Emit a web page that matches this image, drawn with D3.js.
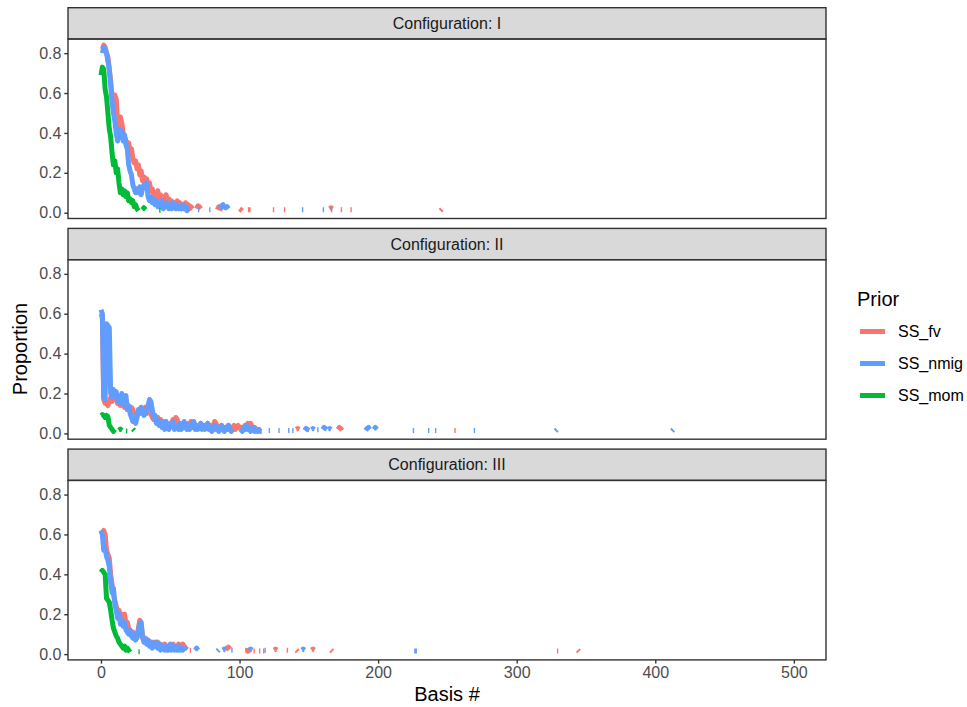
<!DOCTYPE html>
<html>
<head>
<meta charset="utf-8">
<script src="https://cdnjs.cloudflare.com/ajax/libs/d3/7.8.5/d3.min.js"></script>
<style>
  body { margin: 0; background: #fff; }
  svg { display: block; font-family: "Liberation Sans", Arial, sans-serif; }
</style>
</head>
<body>
<svg></svg>
<script>
var configs = ['I', 'II', 'III'];
var priors = ['SS_fv', 'SS_nmig', 'SS_mom'];
var priorColors = ['#F8766D', '#619CFF', '#00BA38'];
var xTicks = [0, 100, 200, 300, 400, 500];
var yTicks = [0, 0.2, 0.4, 0.6, 0.8];

// each run: [first basis #, [proportions of consecutive bases]]
var fvI = [
  [1, [0.82, 0.84, 0.83, 0.80, 0.78, 0.72, 0.66, 0.58, 0.52, 0.59,
       0.57, 0.46, 0.43, 0.48, 0.45, 0.40, 0.38, 0.36, 0.33, 0.35,
       0.31, 0.32, 0.27, 0.25, 0.26, 0.22, 0.24, 0.19, 0.21, 0.16,
       0.18, 0.15, 0.17, 0.13, 0.15, 0.11, 0.12, 0.09, 0.10, 0.08,
       0.11, 0.07, 0.09, 0.06, 0.08, 0.05, 0.09, 0.05, 0.07, 0.04,
       0.06, 0.03, 0.05, 0.04, 0.06, 0.03, 0.05, 0.02, 0.04, 0.02,
       0.05, 0.03, 0.04, 0.02, 0.03, 0.02]],
  [69, [0.02, 0.035, 0.03, 0.02]],
  [84, [0.015, 0.03, 0.025, 0.02, 0.015]],
  [100, [0.02, 0.015, 0.01]],
  [106, [0.015, 0.015, 0.015]],
  [124, [0.015, 0.015]],
  [132, [0.015, 0.015]],
  [165, [0.02, 0.025, 0.02]],
  [173, [0.015, 0.015]],
  [180, [0.015, 0.015]],
  [245, [0.01, 0.017]]
];
var nmigI = [
  [1, [0.80, 0.83, 0.82, 0.80, 0.76, 0.72, 0.64, 0.56, 0.50, 0.46,
       0.40, 0.36, 0.42, 0.38, 0.41, 0.36, 0.39, 0.34, 0.32, 0.24,
       0.21, 0.19, 0.14, 0.12, 0.10, 0.12, 0.10, 0.13, 0.09, 0.12,
       0.14, 0.13, 0.15, 0.08, 0.06, 0.08, 0.05, 0.07, 0.04, 0.06,
       0.03, 0.05, 0.03, 0.06, 0.02, 0.04, 0.03, 0.05, 0.02, 0.04,
       0.02, 0.05, 0.03, 0.02, 0.04, 0.02, 0.03, 0.02, 0.04, 0.02,
       0.03, 0.01, 0.02, 0.02]],
  [70, [0.015, 0.015]],
  [78, [0.015, 0.015]],
  [86, [0.02, 0.035, 0.04, 0.03, 0.025, 0.03, 0.02]],
  [145, [0.015, 0.015]],
  [160, [0.015, 0.015]],
  [166, [0.015, 0.015]]
];
var momI = [
  [0, [0.69, 0.73, 0.72, 0.62, 0.58, 0.50, 0.42, 0.38, 0.30, 0.24,
       0.26, 0.20, 0.22, 0.15, 0.10, 0.12, 0.09, 0.11, 0.08, 0.10,
       0.06, 0.07, 0.05, 0.06, 0.03, 0.04, 0.02, 0.01]],
  [30, [0.015, 0.025, 0.015]],
  [42, [0.012, 0.012]]
];

var fvII = [
  [0, [0.60, 0.58, 0.17, 0.15, 0.15, 0.14, 0.16, 0.18, 0.16, 0.20,
       0.17, 0.19, 0.15, 0.17, 0.14, 0.18, 0.15, 0.13, 0.16, 0.12,
       0.13, 0.12, 0.13, 0.12, 0.08, 0.07, 0.09, 0.11, 0.12, 0.13,
       0.10, 0.12, 0.13, 0.10, 0.14, 0.15, 0.10, 0.08, 0.07, 0.09,
       0.06, 0.08, 0.05, 0.07, 0.04, 0.06, 0.03, 0.05, 0.04, 0.03,
       0.04, 0.05, 0.07, 0.03, 0.08, 0.07, 0.03, 0.05, 0.03, 0.04,
       0.05, 0.04, 0.03, 0.05, 0.03, 0.06, 0.04, 0.05, 0.03, 0.04,
       0.03, 0.04, 0.05, 0.03, 0.04, 0.03, 0.04, 0.05, 0.03, 0.04,
       0.02, 0.03, 0.06, 0.05, 0.03, 0.02, 0.03, 0.04, 0.03, 0.02,
       0.03, 0.02, 0.04, 0.03, 0.02, 0.03, 0.04, 0.02, 0.03, 0.04,
       0.03, 0.02, 0.03, 0.02, 0.04, 0.03, 0.05, 0.04, 0.05, 0.03,
       0.02, 0.03, 0.02, 0.02]],
  [141, [0.02, 0.025, 0.02]],
  [149, [0.02, 0.02]],
  [171, [0.02, 0.03, 0.025, 0.015]],
  [255, [0.015, 0.015]]
];
var nmigII = [
  [0, [0.62, 0.60, 0.18, 0.17, 0.55, 0.54, 0.53, 0.20, 0.18, 0.22,
       0.19, 0.21, 0.16, 0.18, 0.15, 0.20, 0.17, 0.14, 0.19, 0.12,
       0.14, 0.10, 0.08, 0.06, 0.09, 0.05, 0.08, 0.12, 0.10, 0.13,
       0.11, 0.09, 0.10, 0.12, 0.14, 0.17, 0.16, 0.12, 0.08, 0.09,
       0.05, 0.07, 0.04, 0.06, 0.03, 0.05, 0.02, 0.06, 0.03, 0.02,
       0.05, 0.04, 0.06, 0.02, 0.04, 0.03, 0.02, 0.05, 0.02, 0.04,
       0.06, 0.03, 0.02, 0.04, 0.02, 0.05, 0.03, 0.06, 0.02, 0.04,
       0.02, 0.03, 0.05, 0.02, 0.04, 0.02, 0.03, 0.05, 0.02, 0.03,
       0.01, 0.02, 0.04, 0.02, 0.03, 0.01, 0.02, 0.04, 0.02, 0.01,
       0.03, 0.02, 0.04, 0.02, 0.01, 0.02]],
  [101, [0.02, 0.01, 0.03, 0.02, 0.04, 0.02, 0.03, 0.01, 0.02, 0.03,
         0.01, 0.02, 0.01, 0.02, 0.01, 0.01]],
  [121, [0.015, 0.015]],
  [128, [0.015, 0.015]],
  [135, [0.015, 0.015]],
  [138, [0.015, 0.015]],
  [147, [0.015, 0.025, 0.02, 0.015]],
  [152, [0.02, 0.025, 0.02]],
  [156, [0.018, 0.018]],
  [160, [0.02, 0.03, 0.025, 0.02]],
  [164, [0.02, 0.025, 0.02]],
  [191, [0.015, 0.025, 0.03, 0.02]],
  [197, [0.02, 0.03, 0.02]],
  [225, [0.015, 0.015]],
  [236, [0.015, 0.015]],
  [241, [0.015, 0.015]],
  [269, [0.015, 0.015]],
  [328, [0.012, 0.019]],
  [412, [0.012, 0.019]]
];
var momII = [
  [0, [0.09, 0.095, 0.09, 0.08, 0.09, 0.085, 0.04, 0.03, 0.02, 0.01, 0.02]],
  [13, [0.015, 0.022, 0.015]],
  [18, [0.012, 0.012]],
  [23, [0.022, 0.015]]
];

var fvIII = [
  [0, [0.60, 0.61, 0.62, 0.60, 0.52, 0.50, 0.48, 0.40, 0.35, 0.30,
       0.27, 0.24, 0.21, 0.22, 0.19, 0.20, 0.18, 0.20, 0.15, 0.16,
       0.13, 0.12, 0.10, 0.11, 0.09, 0.10, 0.08, 0.13, 0.17, 0.15,
       0.08, 0.07, 0.08, 0.06, 0.07, 0.05, 0.06, 0.04, 0.06, 0.05,
       0.04, 0.06, 0.03, 0.05, 0.04, 0.03, 0.05, 0.03, 0.04, 0.02,
       0.04, 0.03, 0.05, 0.03, 0.04, 0.03, 0.05, 0.04, 0.03, 0.05,
       0.04, 0.03, 0.04]],
  [64, [0.02, 0.02]],
  [90, [0.02, 0.03, 0.035, 0.025]],
  [104, [0.02, 0.02, 0.015, 0.02, 0.015]],
  [110, [0.015, 0.015]],
  [114, [0.015, 0.015]],
  [118, [0.02, 0.02]],
  [125, [0.02, 0.025, 0.02]],
  [134, [0.02, 0.02]],
  [141, [0.02, 0.013]],
  [152, [0.02, 0.025, 0.02]],
  [166, [0.02, 0.013]],
  [329, [0.015, 0.015]],
  [344, [0.02, 0.013]]
];
var nmigIII = [
  [0, [0.62, 0.60, 0.52, 0.53, 0.49, 0.47, 0.44, 0.36, 0.31, 0.33,
       0.25, 0.22, 0.18, 0.20, 0.15, 0.17, 0.14, 0.16, 0.12, 0.11,
       0.10, 0.12, 0.09, 0.08, 0.10, 0.07, 0.09, 0.12, 0.15, 0.16,
       0.09, 0.06, 0.07, 0.05, 0.07, 0.04, 0.06, 0.03, 0.05, 0.04,
       0.06, 0.03, 0.05, 0.02, 0.04, 0.03, 0.02, 0.04, 0.02, 0.03,
       0.05, 0.02, 0.04, 0.02, 0.03, 0.02, 0.04, 0.02, 0.03, 0.02,
       0.03, 0.02]],
  [68, [0.02, 0.03, 0.02]],
  [84, [0.015, 0.022]],
  [88, [0.02, 0.025, 0.02]],
  [94, [0.02, 0.02]],
  [107, [0.02, 0.025, 0.02]],
  [117, [0.015, 0.015]],
  [145, [0.02, 0.025, 0.02]],
  [226, [0.015, 0.015, 0.015]]
];
var momIII = [
  [0, [0.41, 0.42, 0.41, 0.40, 0.28, 0.27, 0.26, 0.22, 0.17, 0.13,
       0.11, 0.09, 0.08, 0.06, 0.05, 0.04, 0.03, 0.04, 0.02, 0.03,
       0.02, 0.01]],
  [27, [0.012, 0.012]]
];

var seriesByConfig = {
  I: [fvI, nmigI, momI],
  II: [fvII, nmigII, momII],
  III: [fvIII, nmigIII, momIII]
};

document.addEventListener('DOMContentLoaded', function() {

  var width = 967;
  var height = 707;
  var svg = d3.select('svg')
                .attr('width', width)
                .attr('height', height);

  var left = 68;
  var right = 826;
  var panelTops = [39, 259.7, 480.4];
  var panelH = 179.5;
  var stripH = 31.3;
  var smallFont = '16px';
  var bigFont = '20px';

  var xScale = d3.scaleLinear()
                 .domain([-23.8, 523.2])
                 .range([left, right]);

  configs.forEach(function(cfg, ci) {
    var top = panelTops[ci];
    var yScale = d3.scaleLinear()
                   .domain([-0.029, 0.871])
                   .range([top + panelH, top]);

    var g = svg.append('g').attr('class', 'panel');

    // strip
    g.append('rect')
        .attr('x', left)
        .attr('y', top - stripH)
        .attr('width', right - left)
        .attr('height', stripH)
        .attr('fill', '#D9D9D9')
        .attr('stroke', '#333333')
        .attr('stroke-width', 1.4);

    g.append('text')
        .attr('x', (left + right) / 2)
        .attr('y', top - stripH / 2)
        .attr('dy', '0.35em')
        .attr('text-anchor', 'middle')
        .attr('fill', '#1A1A1A')
        .style('font-size', smallFont)
        .text('Configuration: ' + cfg);

    var line = d3.line()
                 .defined(d => d !== null)
                 .x(d => xScale(d.basis))
                 .y(d => yScale(d.value));

    seriesByConfig[cfg].forEach(function(runs, pi) {
      var pts = [];
      runs.forEach(function(run) {
        run[1].forEach(function(v, i) {
          pts.push({ basis: run[0] + i, value: v });
        });
        pts.push(null);
      });
      g.append('path')
          .datum(pts)
          .attr('d', line)
          .attr('fill', 'none')
          .attr('stroke', priorColors[pi])
          .attr('stroke-width', 5)
          .attr('stroke-linejoin', 'round')
          .attr('stroke-linecap', 'butt');
    });

    // panel border over the lines
    g.append('rect')
        .attr('x', left)
        .attr('y', top)
        .attr('width', right - left)
        .attr('height', panelH)
        .attr('fill', 'none')
        .attr('stroke', '#333333')
        .attr('stroke-width', 1.4);

    var yAxis = g.append('g')
        .attr('transform', `translate(${left}, 0)`)
        .call(d3.axisLeft(yScale)
                .tickValues(yTicks)
                .tickSize(3.7)
                .tickPadding(2.9)
                .tickFormat(d3.format('.1f')));
    yAxis.select('.domain').remove();
    yAxis.selectAll('line').attr('stroke', '#333333').attr('stroke-width', 1.4);
    yAxis.selectAll('text')
        .attr('fill', '#4D4D4D')
        .style('font-size', smallFont)
        .style('font-family', '"Liberation Sans", Arial, sans-serif');

    if (ci === configs.length - 1) {
      var xAxis = g.append('g')
          .attr('transform', `translate(0, ${top + panelH})`)
          .call(d3.axisBottom(xScale)
                  .tickValues(xTicks)
                  .tickSize(3.7)
                  .tickPadding(2.9));
      xAxis.select('.domain').remove();
      xAxis.selectAll('line').attr('stroke', '#333333').attr('stroke-width', 1.4);
      xAxis.selectAll('text')
          .attr('fill', '#4D4D4D')
          .style('font-size', smallFont)
          .style('font-family', '"Liberation Sans", Arial, sans-serif');
    }
  });

  // axis titles
  svg.append('text')
     .attr('x', (left + right) / 2)
     .attr('y', 701)
     .attr('text-anchor', 'middle')
     .style('font-size', bigFont)
     .text('Basis #');

  svg.append('text')
     .attr('transform', 'translate(27, 349) rotate(-90)')
     .attr('text-anchor', 'middle')
     .style('font-size', bigFont)
     .text('Proportion');

  // legend
  var legend = svg.append('g').attr('transform', 'translate(857, 0)');
  legend.append('text')
      .attr('x', 0)
      .attr('y', 306)
      .style('font-size', bigFont)
      .text('Prior');

  var keys = legend.selectAll('.key')
      .data(priors)
      .enter()
      .append('g')
        .attr('class', 'key')
        .attr('transform', (d, i) => `translate(0, ${331.5 + i * 32})`);

  keys.append('line')
      .attr('x1', 3)
      .attr('x2', 28)
      .attr('stroke', (d, i) => priorColors[i])
      .attr('stroke-width', 5);

  keys.append('text')
      .attr('x', 41)
      .attr('dy', '0.35em')
      .style('font-size', smallFont)
      .text(d => d);

});
</script>
</body>
</html>
